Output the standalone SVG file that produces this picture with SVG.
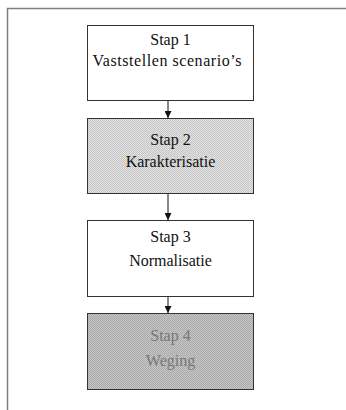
<svg xmlns="http://www.w3.org/2000/svg" width="346" height="410" viewBox="0 0 346 410">
  <defs>
    <!-- fine dither used for the shaded steps -->
    <pattern id="dotLight" width="2" height="2" patternUnits="userSpaceOnUse">
      <rect width="2" height="2" fill="#e4e4e4"/>
      <rect width="1" height="1" fill="#c4c4c4"/>
      <rect x="1" y="1" width="1" height="1" fill="#c4c4c4"/>
    </pattern>
    <pattern id="dotDark" width="2" height="2" patternUnits="userSpaceOnUse">
      <rect width="2" height="2" fill="#c8c8c8"/>
      <rect width="1" height="1" fill="#a8a8a8"/>
      <rect x="1" y="1" width="1" height="1" fill="#a8a8a8"/>
    </pattern>
    <marker id="arrow" markerWidth="7" markerHeight="7" refX="7" refY="3.5" orient="auto" markerUnits="userSpaceOnUse">
      <path d="M0,0 L7,3.5 L0,7 Z" fill="#111"/>
    </marker>
  </defs>
  <style>
    .box { stroke: #333; stroke-width: 1; }
    .lbl { font-family: "Liberation Serif", "Times New Roman", serif; font-size: 16px; fill: #111; text-anchor: middle; }
    .faint { fill: #777; }
    .link { stroke: #111; stroke-width: 1; fill: none; marker-end: url(#arrow); }
  </style>

  <rect width="346" height="410" fill="#fff"/>
  <!-- page frame -->
  <path d="M7.5,410 L7.5,8.5 L346,8.5" fill="none" stroke="#808080" stroke-width="1.5"/>

  <g id="stap1">
    <rect class="box" x="87.5" y="25.5" width="166" height="75" fill="#fff"/>
    <text class="lbl" x="170.5" y="45">Stap 1</text>
    <text class="lbl" x="167" y="66" textLength="149" lengthAdjust="spacing">Vaststellen scenario’s</text>
  </g>

  <g id="stap2">
    <rect class="box" x="87.5" y="118.5" width="166" height="75" fill="url(#dotLight)"/>
    <text class="lbl" x="170.5" y="145">Stap 2</text>
    <text class="lbl" x="170.5" y="167">Karakterisatie</text>
  </g>

  <g id="stap3">
    <rect class="box" x="87.5" y="220.5" width="166" height="76" fill="#fff"/>
    <text class="lbl" x="170.5" y="242">Stap 3</text>
    <text class="lbl" x="170.5" y="266">Normalisatie</text>
  </g>

  <g id="stap4">
    <rect class="box" x="87.5" y="313.5" width="166" height="76" fill="url(#dotDark)"/>
    <text class="lbl faint" x="170.5" y="341">Stap 4</text>
    <text class="lbl faint" x="170.5" y="366">Weging</text>
  </g>

  <g id="connectors">
    <line class="link" x1="168" y1="101" x2="168" y2="118"/>
    <line class="link" x1="168" y1="194" x2="168" y2="220"/>
    <line class="link" x1="168" y1="297" x2="168" y2="313"/>
  </g>
</svg>
